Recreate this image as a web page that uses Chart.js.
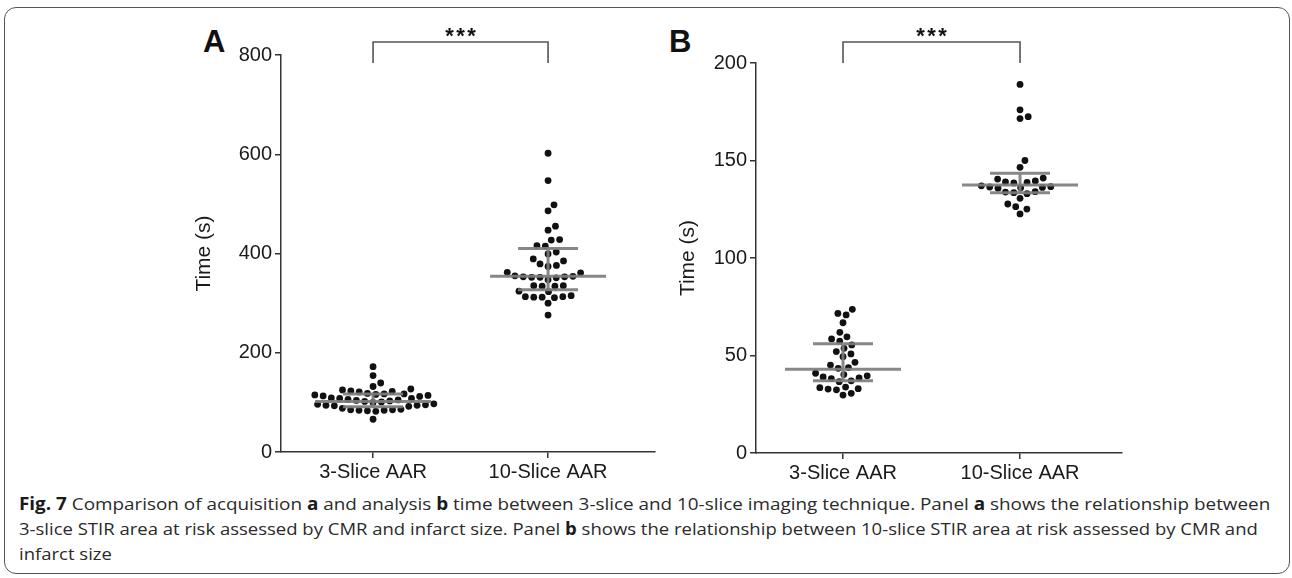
<!DOCTYPE html>
<html>
<head>
<meta charset="utf-8">
<script src="https://cdn.jsdelivr.net/npm/chart.js@4.4.0/dist/chart.umd.min.js"></script>
<style>
  body { margin: 0; background: #fff; width: 1292px; height: 578px; position: relative; overflow: hidden;
         font-family: 'Liberation Sans', Arial, sans-serif; }
  #frame { position: absolute; left: 4px; top: 7px; width: 1286px; height: 567px; border: 1.5px solid #555;
           border-radius: 12px; box-sizing: border-box; }
  canvas { position: absolute; top: 0; }
  .letter { position: absolute; font-weight: bold; font-size: 31px; line-height: 31px; color: #111; }
  .cap { position: absolute; left: 19px; font-family: 'Open Sans', sans-serif; font-size: 17px; line-height: 25px;
         color: #2a2a2a; white-space: nowrap; transform-origin: left center; }
  .cap b { color: #1a1a1a; }
</style>
</head>
<body>
<div id="frame"></div>
<div class="letter" style="left:203px;top:26px">A</div>
<div class="letter" style="left:669px;top:26px">B</div>
<canvas id="panelA" width="470" height="490" style="left:190px"></canvas>
<canvas id="panelB" width="458" height="490" style="left:674px"></canvas>
<div class="cap" id="cap1" style="top:491px"><b>Fig. 7</b> Comparison of acquisition <b>a</b> and analysis <b>b</b> time between 3-slice and 10-slice imaging technique. Panel <b>a</b> shows the relationship between</div>
<div class="cap" id="cap2" style="top:516px">3-slice STIR area at risk assessed by CMR and infarct size. Panel <b>b</b> shows the relationship between 10-slice STIR area at risk assessed by CMR and</div>
<div class="cap" id="cap3" style="top:541px">infarct size</div>
<script>
// ── Data ───────────────────────────────────────────────────────────────────
const categories = ['3-Slice AAR', '10-Slice AAR'];

// Panel A: acquisition time (s)
const acqThree = [172, 154, 139, 132, 127, 125, 123, 122, 121, 118, 117, 117, 116, 115, 114, 113, 112,
                  109, 108, 108, 106, 105, 104, 103, 102, 101, 100, 97, 96, 95, 94, 94, 93, 92, 88,
                  86, 85, 85, 84, 84, 83, 82, 66];
const acqTen   = [602, 547, 498, 486, 455, 447, 428, 427, 416, 415, 403, 399, 389, 385, 379, 376, 374,
                  362, 361, 355, 354, 353, 353, 352, 352, 351, 347, 335, 335, 334, 334, 324, 323,
                  315, 313, 313, 312, 312, 311, 300, 276];
const acqCenter = [102, 354];
const acqUpper  = [117, 410];
const acqLower  = [91, 327];
const acqTicks  = [0, 200, 400, 600, 800];

// Panel B: analysis time (s)
const anaThree = [73.7, 71.6, 70.8, 66.8, 61.9, 59.6, 58.5, 57.4, 55.4, 53.7, 52, 50.8, 49.4, 46.5, 45.1,
                  43.8, 43.4, 40.9, 40.2, 39.6, 39, 38.5, 38.1, 37, 36.6, 33.8, 33.5, 33, 32.8, 32.4,
                  30.6, 29.7];
const anaTen   = [189, 176, 172.5, 171.5, 150, 146.5, 141, 140.5, 139.5, 139, 138.8, 138.5, 137, 136.6,
                  136.4, 136.2, 136, 135.8, 134, 133.8, 133.5, 133, 130.6, 127.7, 126.3, 125.1, 122.6];
const anaCenter = [43, 137.4];
const anaUpper  = [56, 143.5];
const anaLower  = [37, 133.5];
const anaTicks  = [0, 50, 100, 150, 200];

const significance = '***';

// ── Plugins ────────────────────────────────────────────────────────────────
const errorBars = {
  id: 'errorBars',
  afterDatasetsDraw(chart, args, opts) {
    const { ctx, scales: { x, y } } = chart;
    ctx.save();
    ctx.strokeStyle = 'rgba(125,125,125,0.92)';
    ctx.lineWidth = 3;
    opts.center.forEach((c, i) => {
      const px = x.getPixelForValue(i);
      const yc = y.getPixelForValue(c), yu = y.getPixelForValue(opts.upper[i]), yl = y.getPixelForValue(opts.lower[i]);
      ctx.beginPath();
      ctx.moveTo(px - 58, yc); ctx.lineTo(px + 58, yc);
      ctx.moveTo(px - 30, yu); ctx.lineTo(px + 30, yu);
      ctx.moveTo(px - 30, yl); ctx.lineTo(px + 30, yl);
      ctx.moveTo(px, yu); ctx.lineTo(px, yl);
      ctx.stroke();
    });
    ctx.restore();
  }
};

const bracket = {
  id: 'bracket',
  afterDraw(chart, args, opts) {
    const { ctx, scales: { x } } = chart;
    const x0 = x.getPixelForValue(0), x1 = x.getPixelForValue(1);
    ctx.save();
    ctx.strokeStyle = '#555';
    ctx.lineWidth = 1.6;
    ctx.beginPath();
    ctx.moveTo(x0, 63); ctx.lineTo(x0, 42); ctx.lineTo(x1, 42); ctx.lineTo(x1, 63);
    ctx.stroke();
    ctx.fillStyle = '#111';
    ctx.font = 'bold 22px "Liberation Sans", Arial, sans-serif';
    ctx.textAlign = 'center';
    ctx.textBaseline = 'middle';
    const mid = (x0 + x1) / 2;
    [...opts.text].forEach((ch, i) => ctx.fillText(ch, mid + (i - 1) * 11, 37));
    ctx.restore();
  }
};

// ── Beeswarm layout (pixel space) ──────────────────────────────────────────
function swarm(chart, groups, diam) {
  const xs = chart.scales.x, ys = chart.scales.y;
  const unit = xs.getPixelForValue(1) - xs.getPixelForValue(0);
  return groups.map((vals, gi) => {
    const placed = [];
    const out = new Array(vals.length);
    const order = vals.map((v, i) => i).sort((a, b) => vals[a] - vals[b]);
    order.forEach(i => {
      const py = ys.getPixelForValue(vals[i]);
      const cands = [0];
      placed.forEach(p => {
        const dy = p.y - py;
        if (Math.abs(dy) < diam) {
          const dx = Math.sqrt(diam * diam - dy * dy);
          cands.push(p.x + dx, p.x - dx);
        }
      });
      cands.sort((a, b) => Math.abs(a) - Math.abs(b));
      const ok = cands.find(c => placed.every(p => (p.x - c) ** 2 + (p.y - py) ** 2 >= diam * diam - 0.01));
      placed.push({ x: ok, y: py });
      out[i] = { x: gi + ok / unit, y: vals[i] };
    });
    return out;
  });
}

// ── Panel factory ──────────────────────────────────────────────────────────
const FONT = '"Liberation Sans", Arial, sans-serif';

function makePanel(id, groups, center, upper, lower, ticks, xRange, yWidth, padTop, padRight, xHeight) {
  const chart = new Chart(document.getElementById(id), {
    type: 'scatter',
    data: {
      datasets: [{
        data: groups.flatMap((vals, gi) => vals.map(v => ({ x: gi, y: v }))),
        backgroundColor: '#111',
        borderWidth: 0,
        pointRadius: 3.4,
        pointHoverRadius: 3.4,
      }],
    },
    options: {
      responsive: false,
      animation: false,
      events: [],
      layout: { padding: { top: padTop, right: padRight, left: 0, bottom: 0 } },
      plugins: {
        legend: { display: false },
        tooltip: { enabled: false },
        errorBars: { center, upper, lower },
        bracket: { text: significance },
      },
      scales: {
        x: {
          type: 'linear',
          min: xRange[0], max: xRange[1],
          afterBuildTicks: s => { s.ticks = categories.map((c, i) => ({ value: i })); },
          afterFit: s => { s.height = xHeight; },
          ticks: { callback: v => categories[v], color: '#1a1a1a', font: { family: FONT, size: 20 }, padding: 2, maxRotation: 0 },
          grid: { drawOnChartArea: false, drawTicks: true, tickLength: 6, tickColor: '#333', lineWidth: 1.5 },
          border: { color: '#333', width: 1.5, dash: [2, 1.5] },
        },
        y: {
          min: ticks[0], max: ticks[ticks.length - 1],
          afterBuildTicks: s => { s.ticks = ticks.map(v => ({ value: v })); },
          afterFit: s => { s.width = yWidth; },
          ticks: { color: '#1a1a1a', font: { family: FONT, size: 20 }, padding: 3 },
          grid: { drawOnChartArea: false, drawTicks: true, tickLength: 6, tickColor: '#333', lineWidth: 1.5 },
          border: { color: '#333', width: 1.5 },
          title: { display: true, text: 'Time (s)', color: '#1a1a1a', font: { family: FONT, size: 21 }, padding: 2 },
        },
      },
    },
    plugins: [errorBars, bracket],
  });
  chart.data.datasets[0].data = swarm(chart, groups, 8.4).flat();
  chart.update('none');
  return chart;
}

makePanel('panelA', [acqThree, acqTen], acqCenter, acqUpper, acqLower, acqTicks, [-0.526, 1.611], 91, 55, 5, 38);
makePanel('panelB', [anaThree, anaTen], anaCenter, anaUpper, anaLower, anaTicks, [-0.4915, 1.576], 82, 63, 10, 37);

// ── Caption line fitting ───────────────────────────────────────────────────
[['cap1', 1251], ['cap2', 1239]].forEach(([id, w]) => {
  const el = document.getElementById(id);
  el.style.transform = `scaleX(${w / el.offsetWidth})`;
});
document.getElementById('cap3').style.transform = document.getElementById('cap2').style.transform;
</script>
</body>
</html>
